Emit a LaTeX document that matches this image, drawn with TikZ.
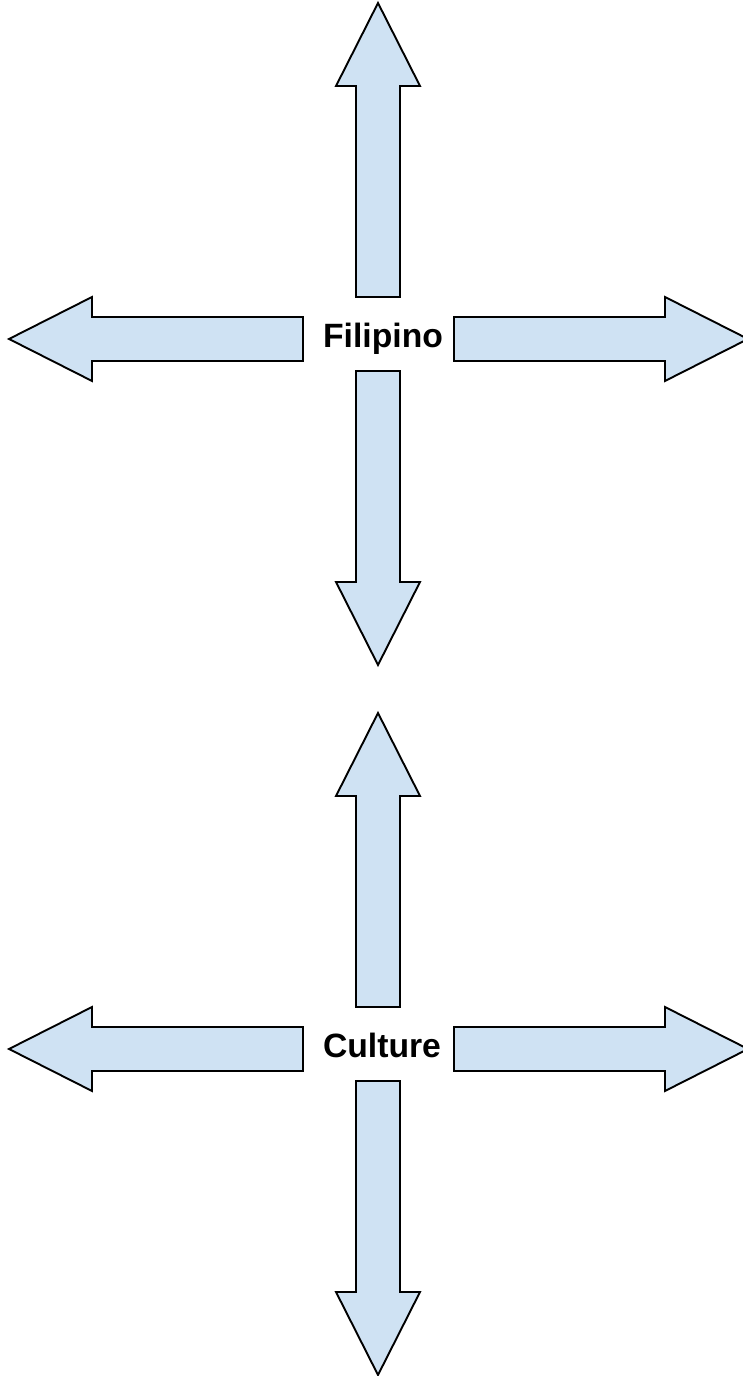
\documentclass[tikz,border=0pt]{standalone}
\usepackage{fontspec}
\setmainfont{Liberation Sans}
\usepackage{tikz}
\usetikzlibrary{positioning}
\definecolor{arrowblue}{HTML}{CFE2F3}
\definecolor{arrowedge}{HTML}{000000}
\tikzset{
  blockarrow/.style={draw=arrowedge,fill=arrowblue,line width=1.9pt,line join=miter},
  hublabel/.style={anchor=base,inner sep=0pt,font=\bfseries\fontsize{33.7}{40}\selectfont}
}
\begin{document}
\begin{tikzpicture}[x=1pt,y=1pt]
  \useasboundingbox (0,0) rectangle (743,1376);
  \coordinate (filipino hub) at (378,1037);
  \coordinate (culture hub) at (378,327);
  % four block arrows round each hub
  \foreach \hub in {filipino hub,culture hub}{
    \foreach \ang/\off in {90/42,-90/32,180/75,0/76}
      \draw[blockarrow,shift={(\hub)},rotate=\ang]
        (\off,-22) -- (\off+211,-22) -- (\off+211,-42) -- (\off+294,0)
        -- (\off+211,42) -- (\off+211,22) -- (\off,22) -- cycle;
  }
  \node[hublabel] (filipino) at ([shift={(5,-8.5)}]filipino hub) {Filipino};
  \node[hublabel] (culture) at ([shift={(4,-8.5)}]culture hub) {Culture};
\end{tikzpicture}
\end{document}
